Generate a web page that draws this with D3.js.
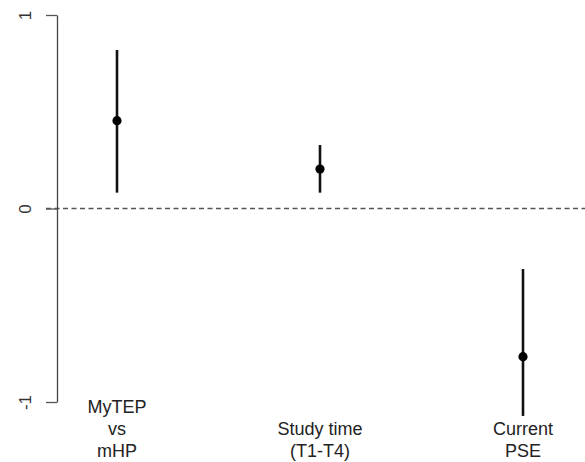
<!DOCTYPE html>
<html>
<head>
<meta charset="utf-8">
<script src="https://cdn.jsdelivr.net/npm/d3@7"></script>
<style>
  body { margin: 0; background: #fff; }
  svg { display: block; font-family: "Liberation Sans", Arial, sans-serif; }
</style>
</head>
<body>
<svg id="chart" width="585" height="462"></svg>
<script>
// data ------------------------------
const categories = [['MyTEP', 'vs', 'mHP'], ['Study time', '(T1-T4)'], ['Current', 'PSE']]
const estimates = [0.454, 0.204, -0.766]
const lower = [0.082, 0.082, -1.072]
const upper = [0.819, 0.328, -0.313]
const yTicks = [-1, 0, 1]

const W = 585
const H = 462
const svg = d3.select('#chart')

const keys = categories.map((c) => c.join(' '))
const x = d3.scalePoint().domain(keys).range([117, 523])
const y = d3.scaleLinear().domain([-1, 1]).range([402, 15])

const rows = keys.map((k, i) => ({ k, lines: categories[i], est: estimates[i], lo: lower[i], hi: upper[i] }))

// reference line at zero
svg
  .append('line')
  .attr('x1', 46)
  .attr('x2', W)
  .attr('y1', y(0))
  .attr('y2', y(0))
  .attr('stroke', '#555')
  .attr('stroke-width', 1.5)
  .attr('stroke-dasharray', '5,3.5')

// y axis, R style with rotated labels (plain hyphen for minus)
const axis = svg
  .append('g')
  .attr('transform', 'translate(57,0)')
  .call(d3.axisLeft(y).tickValues(yTicks).tickSize(11).tickSizeOuter(0).tickFormat((d) => String(d)))
axis.select('.domain').attr('stroke', '#444').attr('stroke-width', 1.3)
axis.selectAll('.tick line').attr('stroke', '#555').attr('stroke-width', 1.3)
axis
  .selectAll('.tick text')
  .attr('x', null)
  .attr('dy', null)
  .attr('transform', 'translate(-26,0) rotate(-90)')
  .attr('text-anchor', 'middle')
  .attr('fill', '#333')
  .style('font-size', '17px')
  .style('font-family', '"Liberation Sans", Arial, sans-serif')

// error bars
svg
  .selectAll('line.ci')
  .data(rows)
  .join('line')
  .attr('class', 'ci')
  .attr('x1', (d) => x(d.k))
  .attr('x2', (d) => x(d.k))
  .attr('y1', (d) => y(d.lo))
  .attr('y2', (d) => y(d.hi))
  .attr('stroke', '#111')
  .attr('stroke-width', 2.6)

// points
svg
  .selectAll('circle.pt')
  .data(rows)
  .join('circle')
  .attr('class', 'pt')
  .attr('cx', (d) => x(d.k))
  .attr('cy', (d) => y(d.est))
  .attr('r', 4.6)
  .attr('fill', '#000')

// category labels, bottom aligned
const lineH = 22
svg
  .selectAll('text.cat')
  .data(rows)
  .join('text')
  .attr('class', 'cat')
  .attr('text-anchor', 'middle')
  .attr('fill', '#222')
  .style('font-size', '18px')
  .each(function (d) {
    const t = d3.select(this)
    const n = d.lines.length
    d.lines.forEach((s, j) => {
      t.append('tspan')
        .attr('x', x(d.k))
        .attr('y', 457 - (n - 1 - j) * lineH)
        .text(s)
    })
  })
</script>
</body>
</html>
